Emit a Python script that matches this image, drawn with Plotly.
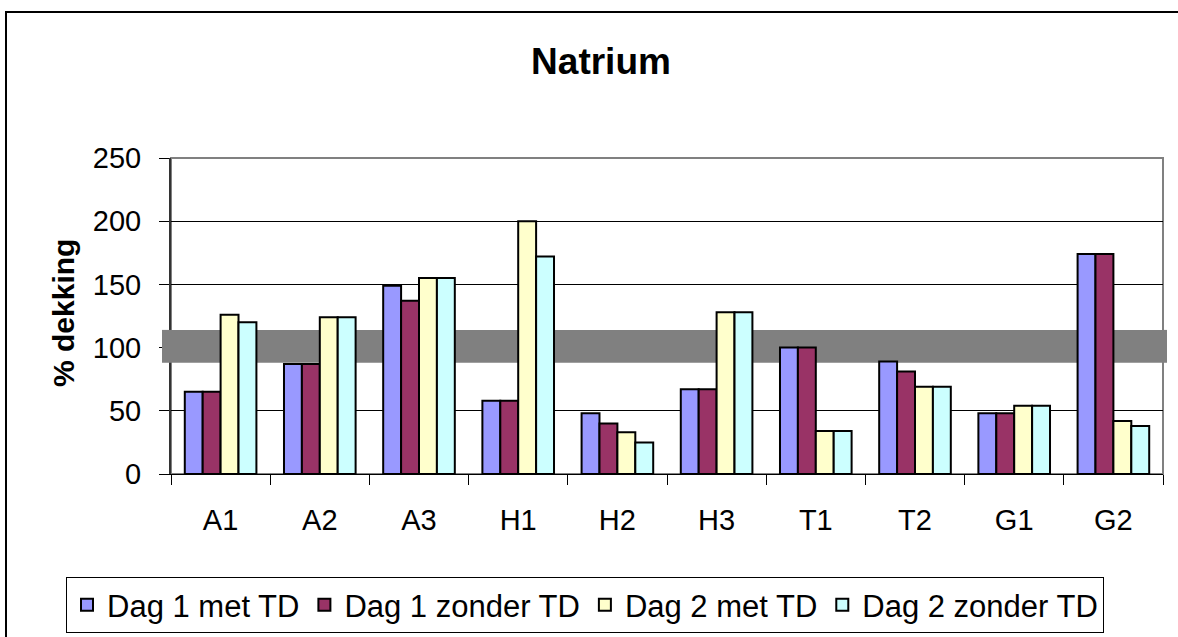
import plotly.graph_objects as go

# Natrium coverage (% dekking) per subject, two days, with/without TD
categories = ["A1", "A2", "A3", "H1", "H2", "H3", "T1", "T2", "G1", "G2"]
dag1_met_td = [65, 87, 149, 58, 48, 67, 100, 89, 48, 174]
dag1_zonder_td = [65, 87, 137, 58, 40, 67, 100, 81, 48, 174]
dag2_met_td = [126, 124, 155, 200, 33, 128, 34, 69, 54, 42]
dag2_zonder_td = [120, 124, 155, 172, 25, 128, 34, 69, 54, 38]

series_names = ["Dag 1 met TD", "Dag 1 zonder TD", "Dag 2 met TD", "Dag 2 zonder TD"]
series_colors = ["#9999FF", "#993366", "#FFFFCC", "#CCFFFF"]

# reference band around 100 %
band_low, band_high = 88, 114
y_max = 250

FONT = "Liberation Sans, Arial, sans-serif"

W, H = 1178, 637
ML, MR, MT, MB = 171, 15, 158, 163
PW, PH = W - ML - MR, H - MT - MB


def px_x(px):
    return (px - ML) / PW


def px_y(py):
    return (H - MB - py) / PH


fig = go.Figure()
for name, color, vals in zip(series_names, series_colors,
                             [dag1_met_td, dag1_zonder_td, dag2_met_td, dag2_zonder_td]):
    fig.add_trace(go.Bar(
        x=categories, y=vals, name=name,
        marker=dict(color=color, line=dict(color="black", width=2)),
    ))

shapes = [
    # chart area frame
    dict(type="rect", xref="paper", yref="paper",
         x0=px_x(6), x1=px_x(1190), y0=px_y(650), y1=px_y(12),
         line=dict(color="black", width=2), fillcolor="rgba(0,0,0,0)", layer="below"),
    # plot area frame
    dict(type="rect", xref="paper", yref="paper", x0=0, x1=1, y0=0, y1=1,
         line=dict(color="#808080", width=2), fillcolor="rgba(0,0,0,0)", layer="below"),
    # band between gridlines and bars
    dict(type="rect", xref="x", yref="y", x0=-0.5, x1=len(categories) - 0.5,
         y0=band_low, y1=band_high, line=dict(width=0), fillcolor="#808080", layer="between"),
    # band overhang on both sides of the plot area
    dict(type="rect", xref="paper", yref="paper", x0=px_x(162), x1=0.0005,
         y0=band_low / y_max, y1=band_high / y_max, line=dict(width=0),
         fillcolor="#808080", layer="above"),
    dict(type="rect", xref="paper", yref="paper", x0=0.999, x1=px_x(1167),
         y0=band_low / y_max, y1=band_high / y_max, line=dict(width=0),
         fillcolor="#808080", layer="above"),
]

fig.update_layout(
    width=W, height=H,
    margin=dict(l=ML, r=MR, t=MT, b=MB, autoexpand=False),
    paper_bgcolor="white", plot_bgcolor="white",
    font=dict(family=FONT, color="black"),
    title=dict(text="<b>Natrium</b>", font=dict(size=37, family=FONT, color="black"),
               x=601 / W, xanchor="center", y=1 - 61 / H, yanchor="middle"),
    barmode="group", bargap=0.278, bargroupgap=0,
    showlegend=True,
    legend=dict(orientation="h", xref="paper", x=px_x(66), xanchor="left",
                yref="paper", y=px_y(577), yanchor="top",
                font=dict(size=31, family=FONT, color="black"),
                bordercolor="black", borderwidth=1, bgcolor="white",
                itemwidth=30, traceorder="normal"),
    shapes=shapes,
    annotations=[dict(text="<b>% dekking</b>", textangle=-90, xref="paper", yref="paper",
                      x=px_x(63), y=px_y(313), xanchor="center", yanchor="middle",
                      showarrow=False, font=dict(size=30, family=FONT, color="black"))],
)

fig.update_xaxes(
    type="category", range=[-0.5, len(categories) - 0.5],
    showline=True, linecolor="black", linewidth=1,
    ticks="outside", tickson="boundaries", ticklen=10, tickcolor="black", tickwidth=1,
    tickfont=dict(size=29, family=FONT, color="black"), ticklabelstandoff=20,
    showgrid=False, zeroline=False,
)
fig.update_yaxes(
    range=[0, y_max], dtick=50, tick0=0,
    showline=True, linecolor="#333333", linewidth=2,
    ticks="outside", ticklen=10, tickcolor="black", tickwidth=1,
    tickfont=dict(size=29, family=FONT, color="black"), ticklabelstandoff=12,
    showgrid=True, gridcolor="black", gridwidth=1, zeroline=False,
)

fig.write_html("out.html")
